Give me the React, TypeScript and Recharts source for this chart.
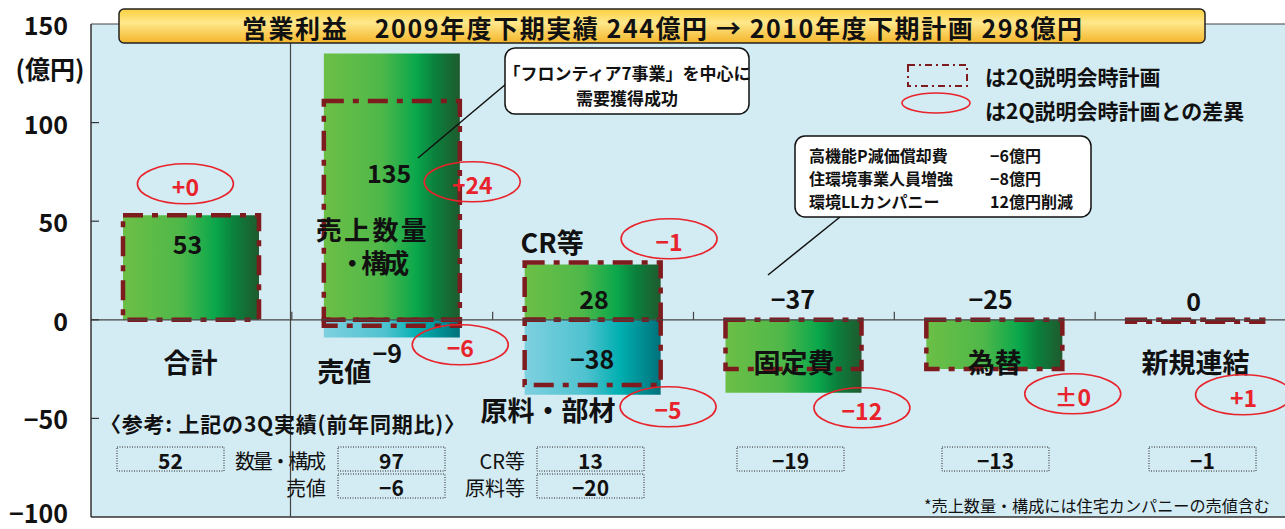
import React from "react";
import {
  ComposedChart,
  Bar,
  XAxis,
  YAxis,
  CartesianGrid,
  ReferenceLine,
  ReferenceDot,
} from "recharts";

// categories and values (億円)
const categories = ["合計", "売上数量・構成", "CR等", "固定費", "為替", "新規連結"];
const actualMain = [53, 135, 28, -37, -25, 0];
const actualSub = [0, -9, -38, 0, 0, 0];
const planMain = [53, 111, 29, -25, -25, -1];
const planSub = [0, -3, -33, 0, 0, 0];
const diffMain = ["+0", "+24", "−1", "−12", "±0", "+1"];
const diffSub = ["", "−6", "−5", "", "", ""];
const catLines = [["合計"], ["売上数量", "・構成"], ["CR等"], ["固定費"], ["為替"], ["新規連結"]];
const subNames = ["", "売値", "原料・部材", "", "", ""];
const yTicks = [-100, -50, 0, 50, 100, 150];

// reference table: 3Q results (YoY)
const ref3QTop = [52, 97, 13, -19, -13, -1];
const ref3QBottom = [null, -6, -20, null, null, null];
const ref3QTopNames = ["", "数量・構成", "CR等", "", "", ""];
const ref3QBottomNames = ["", "売値", "原料等", "", "", ""];

const data = categories.map((cat, i) => ({
  cat,
  main: actualMain[i],
  sub: actualSub[i],
  plan: planMain[i],
  planSub: planSub[i],
}));

const JP = '"Noto Sans CJK JP", "Noto Sans", sans-serif';
const INK = "#111";
const RED = "#e8232b";
const PLAN = "#7e1b1e";
const BG = "#d3ebf3";
const BAR_W = 136;

const fmt = (v: number) => (v < 0 ? `−${Math.abs(v)}` : String(v));

// pixel offsets from (band centre, zero line); optional fitted text widths
const layout = [
  { val: [-4, -77], sub: null, cat: [[-1, 42, 0]], subCat: null, dm: [-6, -136], ds: null },
  { val: [-3, -148], sub: [-5, 32], cat: [[-21, -91, 111], [-18, -58, 70]], subCat: [-48, 51], dm: [80, -138], ds: [68, 25] },
  { val: [1, -22], sub: [-1, 38], cat: [[-41, -78, 0]], subCat: [-45, 90], dm: [76, -81], ds: [75, 87] },
  { val: [-1, -22], sub: null, cat: [[0, 42, 0]], subCat: null, dm: [68, 88], ds: null },
  { val: [-4, -22], sub: null, cat: [[0, 42, 0]], subCat: null, dm: [78, 74], ds: null },
  { val: [-2, -20], sub: null, cat: [[0, 42, 0]], subCat: null, dm: [48, 75], ds: null },
];
const HALF_BAND = 100.4;

const boxLeft = [117, 338, 537, 737, 942, 1149];

function PlanShape(props: any) {
  const { x, y, width, height } = props;
  if (!height || Math.abs(height) < 0.5) return <g />;
  const top = height < 0 ? y + height : y;
  return (
    <rect
      x={x}
      y={top}
      width={width}
      height={Math.abs(height)}
      fill="none"
      stroke={PLAN}
      strokeWidth={4.5}
      strokeDasharray="20 9 6 9"
    />
  );
}

function Diff({ x, y, text }: { x: number; y: number; text: string }) {
  return (
    <g>
      <ellipse cx={x} cy={y} rx={48} ry={20} fill="none" stroke={RED} strokeWidth={1.6} />
      <text x={x} y={y + 2} textAnchor="middle" dominantBaseline="central" fill={RED} fontSize={23} fontWeight={700} fontFamily={JP}>
        {text}
      </text>
    </g>
  );
}

function Annot({ cx, cy, i }: any) {
  const L = layout[i];
  const t = (key: string, x: number, y: number, s: string, size: number, len = 0) => (
    <text
      key={key}
      x={x}
      y={y}
      textAnchor="middle"
      dominantBaseline="central"
      fill={INK}
      fontSize={size}
      fontWeight={700}
      fontFamily={JP}
      {...(len ? { textLength: len, lengthAdjust: "spacing" } : {})}
    >
      {s}
    </text>
  );
  return (
    <g>
      {i < categories.length - 1 && (
        <line x1={cx + HALF_BAND} x2={cx + HALF_BAND} y1={cy} y2={cy - 8} stroke="#444" strokeWidth={1.2} />
      )}
      {t("v", cx + L.val[0], cy + L.val[1], fmt(actualMain[i]), 25)}
      {L.sub && actualSub[i] !== 0 && t("s", cx + L.sub[0], cy + L.sub[1], fmt(actualSub[i]), 25)}
      {catLines[i].map((s, k) => t("c" + k, cx + L.cat[k][0], cy + L.cat[k][1], s, catLines[i].length > 1 ? 26 : 27, L.cat[k][2]))}
      {L.subCat && t("sc", cx + L.subCat[0], cy + L.subCat[1], subNames[i], 27)}
      <Diff x={cx + L.dm[0]} y={cy + L.dm[1]} text={diffMain[i]} />
      {L.ds && <Diff x={cx + L.ds[0]} y={cy + L.ds[1]} text={diffSub[i]} />}
    </g>
  );
}

function YTick(props: any) {
  const { x, y, payload } = props;
  const v = payload.value as number;
  return (
    <g>
      <text x={x} y={v === -100 ? y - 5 : y} textAnchor="end" dominantBaseline="central" fontSize={25} fontWeight={700} fill={INK} fontFamily={JP}>
        {fmt(v)}
      </text>
      {v > -100 && v < 150 && <line x1={x + 23} x2={x + 31} y1={y} y2={y} stroke="#333" strokeWidth={1.2} />}
    </g>
  );
}

export default function App() {
  return (
    <div
      style={{
        position: "absolute",
        left: 0,
        top: 0,
        width: 1285,
        height: 529,
        overflow: "hidden",
        background: "#fff",
        fontFamily: JP,
      }}
    >
      <div style={{ position: "absolute", left: 0, top: 0 }}>
        <ComposedChart
          width={1310}
          height={529}
          data={data}
          margin={{ top: 24, right: 14, bottom: 11, left: 29 }}
          barCategoryGap="32%"
          stackOffset="sign"
        >
          <defs>
            <linearGradient id="gGreen" x1="0" y1="0" x2="1" y2="0">
              <stop offset="0" stopColor="#6cbf46" />
              <stop offset="0.42" stopColor="#4fb849" />
              <stop offset="0.68" stopColor="#0aa74c" />
              <stop offset="0.82" stopColor="#0b7f3c" />
              <stop offset="1" stopColor="#1f5a2e" />
            </linearGradient>
            <linearGradient id="gCyan" x1="0" y1="0" x2="1" y2="0">
              <stop offset="0" stopColor="#7ed0e0" />
              <stop offset="0.45" stopColor="#4fc2cf" />
              <stop offset="0.7" stopColor="#00afb1" />
              <stop offset="1" stopColor="#00717a" />
            </linearGradient>
          </defs>
          <CartesianGrid fill={BG} stroke="none" horizontal={false} vertical={false} />
          <XAxis dataKey="cat" tick={false} tickLine={false} height={1} axisLine={{ stroke: "#333", strokeWidth: 1.5 }} />
          <XAxis xAxisId="plan" dataKey="cat" hide />
          <YAxis
            domain={[-100, 150]}
            ticks={yTicks}
            interval={0}
            width={62}
            tickSize={0}
            tickMargin={23}
            tickLine={false}
            axisLine={{ stroke: "#333", strokeWidth: 1.5 }}
            tick={YTick}
            allowDataOverflow
          />
          <ReferenceLine y={150} stroke="#444" strokeWidth={1.2} />
          <ReferenceLine y={0} stroke="#444" strokeWidth={1.2} />
          <Bar dataKey="main" stackId="a" barSize={BAR_W} fill="url(#gGreen)" isAnimationActive={false} />
          <Bar dataKey="sub" stackId="a" barSize={BAR_W} fill="url(#gCyan)" isAnimationActive={false} />
          <Bar dataKey="plan" xAxisId="plan" stackId="p" barSize={BAR_W} shape={PlanShape} isAnimationActive={false} />
          <Bar dataKey="planSub" xAxisId="plan" stackId="p" barSize={BAR_W} shape={PlanShape} isAnimationActive={false} />
          {categories.map((c, i) => (
            <ReferenceDot
              key={c}
              x={c}
              y={0}
              r={1}
              ifOverflow="visible"
              shape={(p: any) => <Annot cx={p.cx} cy={p.cy} i={i} />}
            />
          ))}
        </ComposedChart>
      </div>

      <svg width={1285} height={529} style={{ position: "absolute", left: 0, top: 0, pointerEvents: "none" }} fontFamily={JP}>
        <defs>
          <linearGradient id="gBanner" x1="0" y1="0" x2="0" y2="1">
            <stop offset="0" stopColor="#fbd040" />
            <stop offset="0.4" stopColor="#ffe88c" />
            <stop offset="1" stopColor="#f4b52a" />
          </linearGradient>
        </defs>

        <text x={50} y={68} textAnchor="middle" dominantBaseline="central" fontSize={25} fontWeight={700} fill={INK}>
          (億円)
        </text>
        <line x1={290.5} y1={43} x2={290.5} y2={517} stroke="#444" strokeWidth={1.2} />

        <rect x={119} y={9} width={1086} height={34} rx={5} fill="url(#gBanner)" stroke="#222" strokeWidth={1.5} />
        <text x={662} y={27} textAnchor="middle" dominantBaseline="central" fontSize={25} fontWeight={700} fill={INK} textLength={840} lengthAdjust="spacing">
          営業利益　2009年度下期実績 244億円 → 2010年度下期計画 298億円
        </text>

        {/* legend */}
        <rect x={908} y={65} width={59} height={21} fill="none" stroke={PLAN} strokeWidth={2} strokeDasharray="7 4 2 4" />
        <text x={985} y={76} dominantBaseline="central" fontSize={21} fontWeight={700} fill={INK}>
          は2Q説明会時計画
        </text>
        <ellipse cx={936} cy={103} rx={34} ry={10} fill="none" stroke={RED} strokeWidth={1.6} />
        <text x={985} y={110} dominantBaseline="central" fontSize={21} fontWeight={700} fill={INK}>
          は2Q説明会時計画との差異
        </text>

        {/* callout 1 */}
        <line x1={506} y1={84} x2={418} y2={158} stroke={INK} strokeWidth={1.5} />
        <rect x={505} y={48} width={244} height={66} rx={10} fill="#fff" stroke={INK} strokeWidth={1.5} />
        <text x={627} y={72} textAnchor="middle" dominantBaseline="central" fontSize={17} fontWeight={700} fill={INK}>
          「フロンティア7事業」を中心に
        </text>
        <text x={627} y={97} textAnchor="middle" dominantBaseline="central" fontSize={17} fontWeight={700} fill={INK}>
          需要獲得成功
        </text>

        {/* callout 2 */}
        <line x1={840} y1={217} x2={768} y2={275} stroke={INK} strokeWidth={1.5} />
        <rect x={795} y={136} width={296} height={81} rx={10} fill="#fff" stroke={INK} strokeWidth={1.5} />
        {[
          ["高機能P減価償却費", "−6億円", 155],
          ["住環境事業人員増強", "−8億円", 178],
          ["環境LLカンパニー", "12億円削減", 201],
        ].map(([a, b, y]) => (
          <g key={a as string}>
            <text x={809} y={y as number} dominantBaseline="central" fontSize={16} fontWeight={700} fill={INK}>
              {a}
            </text>
            <text x={990} y={y as number} dominantBaseline="central" fontSize={16} fontWeight={700} fill={INK}>
              {b}
            </text>
          </g>
        ))}

        {/* reference table */}
        <text x={100} y={423} dominantBaseline="central" fontSize={21} fontWeight={700} fill={INK} textLength={365} lengthAdjust="spacing">
          〈参考: 上記の3Q実績(前年同期比)〉
        </text>
        {ref3QTop.map((v, i) => (
          <g key={"t" + i}>
            <rect x={boxLeft[i]} y={447} width={107} height={24} fill="none" stroke="#222" strokeWidth={1} strokeDasharray="1 1.5" />
            <text x={boxLeft[i] + 53.5} y={460} textAnchor="middle" dominantBaseline="central" fontSize={21} fontWeight={700} fill={INK}>
              {fmt(v)}
            </text>
            {ref3QTopNames[i] && (
              <text
                x={boxLeft[i] - 12}
                y={460}
                textAnchor="end"
                dominantBaseline="central"
                fontSize={20}
                fill={INK}
                {...(i === 1 ? { textLength: 91, lengthAdjust: "spacing" } : {})}
              >
                {ref3QTopNames[i]}
              </text>
            )}
          </g>
        ))}
        {ref3QBottom.map((v, i) =>
          v === null ? null : (
            <g key={"b" + i}>
              <rect x={boxLeft[i]} y={474} width={107} height={24} fill="none" stroke="#222" strokeWidth={1} strokeDasharray="1 1.5" />
              <text x={boxLeft[i] + 53.5} y={487} textAnchor="middle" dominantBaseline="central" fontSize={21} fontWeight={700} fill={INK}>
                {fmt(v)}
              </text>
              <text x={boxLeft[i] - 12} y={487} textAnchor="end" dominantBaseline="central" fontSize={20} fill={INK}>
                {ref3QBottomNames[i]}
              </text>
            </g>
          )
        )}
        <text x={924} y={505} dominantBaseline="central" fontSize={16} fill={INK} textLength={346} lengthAdjust="spacingAndGlyphs">
          *売上数量・構成には住宅カンパニーの売値含む
        </text>
      </svg>
    </div>
  );
}
